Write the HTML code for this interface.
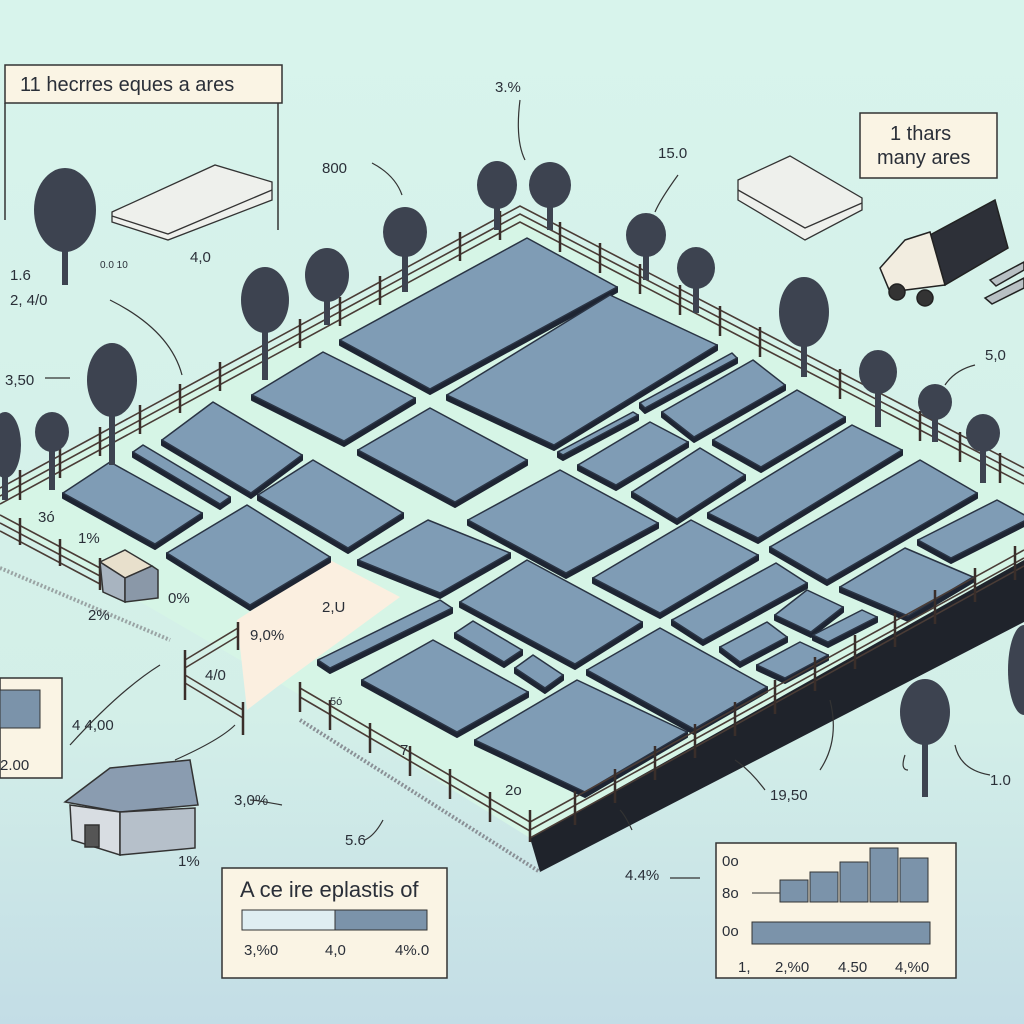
<!DOCTYPE html>
<html><head><meta charset="utf-8"><style>
html,body{margin:0;padding:0;width:1024px;height:1024px;overflow:hidden}
text{font-family:"Liberation Sans",sans-serif;fill:#2a2f38}
</style></head><body>
<svg id="s" width="1024" height="1024" viewBox="0 0 1024 1024" xmlns="http://www.w3.org/2000/svg">
<defs>
<linearGradient id="bg" x1="0" y1="0" x2="0" y2="1">
<stop offset="0" stop-color="#d8f4ec"/><stop offset="0.7" stop-color="#d3efe8"/><stop offset="1" stop-color="#c3dde6"/>
</linearGradient>
</defs>
<rect width="1024" height="1024" fill="url(#bg)"/>
<!-- field -->
<polygon points="520,215 1024,478 1024,560 530,838 300,695 0,520 0,490" fill="#d6f5e6"/>
<polygon points="530,838 1024,560 1024,622 540,872" fill="#1f232b"/>
<polyline points="300,720 540,872" stroke="#8a9096" stroke-width="4" stroke-dasharray="2 2" fill="none"/>
<polyline points="0,568 170,640" stroke="#9aa4a4" stroke-width="4" stroke-dasharray="2 2" fill="none"/>
<polygon points="237,620 330,560 400,597 277,687 247,710" fill="#fbefe0"/>
<g id="plots"></g>
<!-- fence -->
<g stroke="#4a3c36" stroke-width="1.6" fill="none">
<polyline points="0,488 520,206 1024,468"/>
<polyline points="0,496 520,214 1024,476"/>
<polyline points="0,504 520,222 1024,484"/>
<polyline points="1024,550 530,822"/>
<polyline points="1024,558 530,830"/>
<polyline points="1024,566 530,838"/>
<polyline points="300,688 530,822"/><polyline points="300,697 530,831"/>
<polyline points="0,515 100,568"/><polyline points="0,523 100,576"/><polyline points="0,531 100,584"/>
<polyline points="185,660 238,628"/><polyline points="185,668 238,636"/>
<polyline points="185,675 243,710"/><polyline points="185,683 243,718"/>
</g>
<g stroke="#3a2e2a" stroke-width="2.5">
<line x1="20" y1="470" x2="20" y2="500"/><line x1="60" y1="449" x2="60" y2="478"/><line x1="100" y1="427" x2="100" y2="456"/><line x1="140" y1="405" x2="140" y2="434"/><line x1="180" y1="384" x2="180" y2="413"/><line x1="220" y1="362" x2="220" y2="391"/><line x1="300" y1="319" x2="300" y2="348"/><line x1="340" y1="297" x2="340" y2="326"/><line x1="380" y1="276" x2="380" y2="305"/><line x1="460" y1="232" x2="460" y2="261"/><line x1="500" y1="211" x2="500" y2="240"/>
<line x1="560" y1="222" x2="560" y2="252"/><line x1="600" y1="243" x2="600" y2="273"/><line x1="640" y1="264" x2="640" y2="294"/><line x1="680" y1="285" x2="680" y2="315"/><line x1="720" y1="306" x2="720" y2="336"/><line x1="760" y1="327" x2="760" y2="357"/><line x1="840" y1="369" x2="840" y2="399"/><line x1="920" y1="411" x2="920" y2="441"/><line x1="960" y1="432" x2="960" y2="462"/><line x1="1000" y1="453" x2="1000" y2="483"/>
<line x1="1015" y1="546" x2="1015" y2="580"/><line x1="975" y1="568" x2="975" y2="602"/><line x1="935" y1="590" x2="935" y2="624"/><line x1="895" y1="613" x2="895" y2="647"/><line x1="855" y1="635" x2="855" y2="669"/><line x1="815" y1="657" x2="815" y2="691"/><line x1="775" y1="680" x2="775" y2="714"/><line x1="735" y1="702" x2="735" y2="736"/><line x1="695" y1="724" x2="695" y2="758"/><line x1="655" y1="746" x2="655" y2="780"/><line x1="615" y1="769" x2="615" y2="803"/><line x1="575" y1="791" x2="575" y2="825"/><line x1="530" y1="810" x2="530" y2="842"/>
<line x1="490" y1="792" x2="490" y2="822"/><line x1="450" y1="769" x2="450" y2="799"/><line x1="410" y1="746" x2="410" y2="776"/><line x1="370" y1="723" x2="370" y2="753"/><line x1="330" y1="700" x2="330" y2="730"/><line x1="300" y1="682" x2="300" y2="712"/>
<line x1="20" y1="518" x2="20" y2="545"/><line x1="60" y1="539" x2="60" y2="566"/><line x1="100" y1="558" x2="100" y2="590"/><line x1="185" y1="650" x2="185" y2="700"/><line x1="238" y1="622" x2="238" y2="650"/><line x1="243" y1="702" x2="243" y2="735"/>
</g>
<!-- trees -->
<g fill="#3d4350">
<g transform="translate(65,210)"><rect x="-3" y="20" width="6" height="55"/><ellipse rx="31" ry="42"/></g>
<g transform="translate(265,300)"><rect x="-3" y="20" width="6" height="60"/><ellipse rx="24" ry="33"/></g>
<g transform="translate(112,380)"><rect x="-3" y="20" width="6" height="65"/><ellipse rx="25" ry="37"/></g>
<g transform="translate(52,432)"><rect x="-3" y="10" width="6" height="48"/><ellipse rx="17" ry="20"/></g>
<g transform="translate(5,445)"><rect x="-3" y="10" width="6" height="45"/><ellipse rx="16" ry="33"/></g>
<g transform="translate(327,275)"><rect x="-3" y="15" width="6" height="35"/><ellipse rx="22" ry="27"/></g>
<g transform="translate(405,232)"><rect x="-3" y="15" width="6" height="45"/><ellipse rx="22" ry="25"/></g>
<g transform="translate(497,185)"><rect x="-3" y="15" width="6" height="30"/><ellipse rx="20" ry="24"/></g>
<g transform="translate(550,185)"><rect x="-3" y="15" width="6" height="30"/><ellipse rx="21" ry="23"/></g>
<g transform="translate(646,235)"><rect x="-3" y="15" width="6" height="30"/><ellipse rx="20" ry="22"/></g>
<g transform="translate(696,268)"><rect x="-3" y="15" width="6" height="30"/><ellipse rx="19" ry="21"/></g>
<g transform="translate(804,312)"><rect x="-3" y="20" width="6" height="45"/><ellipse rx="25" ry="35"/></g>
<g transform="translate(878,372)"><rect x="-3" y="15" width="6" height="40"/><ellipse rx="19" ry="22"/></g>
<g transform="translate(935,402)"><rect x="-3" y="10" width="6" height="30"/><ellipse rx="17" ry="18"/></g>
<g transform="translate(983,433)"><rect x="-3" y="10" width="6" height="40"/><ellipse rx="17" ry="19"/></g>
<g transform="translate(925,712)"><rect x="-3" y="20" width="6" height="65"/><ellipse rx="25" ry="33"/></g>
<ellipse cx="1024" cy="670" rx="16" ry="45"/>
</g>
<!-- barns -->
<g stroke="#333" stroke-width="1.5">
<polygon points="100,562 125,550 152,566 125,578" fill="#e8e0cc"/>
<polygon points="100,562 125,578 125,602 103,592" fill="#a8b4c0"/>
<polygon points="125,578 152,566 158,570 158,598 125,602" fill="#8a98a8"/>
<polygon points="65,802 110,768 190,760 198,805 120,812" fill="#8a9cb0"/>
<polygon points="70,805 120,812 120,855 72,840" fill="#d8dde2"/>
<polygon points="120,812 195,808 195,848 120,855" fill="#b6c0ca"/>
<rect x="85" y="825" width="14" height="22" fill="#555"/>
</g>
<!-- truck -->
<g stroke="#222" stroke-width="1.5">
<polygon points="930,235 995,200 1008,248 945,285" fill="#2d3038"/>
<polygon points="905,240 930,232 945,285 890,292 880,268" fill="#f2ede0"/>
<circle cx="897" cy="292" r="8" fill="#333"/><circle cx="925" cy="298" r="8" fill="#333"/>
<polygon points="990,280 1024,262 1024,270 996,286" fill="#b8c0c4"/>
<polygon points="985,298 1024,278 1024,288 992,304" fill="#b8c0c4"/>
</g>
<!-- stacks of papers -->
<g stroke="#333" stroke-width="1.3">
<polygon points="112,212 215,165 272,182 272,200 168,240 112,222" fill="#eef0ec"/>
<polyline points="112,216 168,234 272,190" fill="none"/>
<polygon points="738,180 790,156 862,198 862,210 805,240 738,200" fill="#eef0ec"/>
<polyline points="738,190 805,228 862,203" fill="none"/>
</g>
<!-- label boxes -->
<g stroke="#333" stroke-width="1.5" fill="#faf4e4">
<rect x="5" y="65" width="277" height="38"/>
<rect x="860" y="113" width="137" height="65"/>
<rect x="0" y="678" width="62" height="100"/>
<rect x="222" y="868" width="225" height="110"/>
<rect x="716" y="843" width="240" height="135"/>
</g>
<line x1="5" y1="103" x2="5" y2="220" stroke="#333" stroke-width="1.5"/>
<line x1="278" y1="103" x2="278" y2="230" stroke="#333" stroke-width="1.5"/>
<rect x="0" y="690" width="40" height="38" fill="#7b93aa" stroke="#333"/>
<rect x="242" y="910" width="185" height="20" fill="#dfeef2" stroke="#333"/>
<rect x="335" y="910" width="92" height="20" fill="#7b93aa" stroke="#333"/>
<g fill="#7b93aa" stroke="#333">
<rect x="780" y="880" width="28" height="22"/><rect x="810" y="872" width="28" height="30"/><rect x="840" y="862" width="28" height="40"/><rect x="870" y="848" width="28" height="54"/><rect x="900" y="858" width="28" height="44"/>
<rect x="752" y="922" width="178" height="22"/>
</g>
<line x1="752" y1="893" x2="780" y2="893" stroke="#333"/>
<g font-size="20">
<text x="20" y="91">11 hecrres eques a ares</text>
<text x="890" y="140">1 thars</text><text x="877" y="164">many ares</text>
<text x="240" y="897" font-size="22">A ce ire eplastis of</text>
</g>
<g font-size="15">
<text x="322" y="173">800</text><text x="495" y="92">3.%</text><text x="658" y="158">15.0</text>
<text x="10" y="280">1.6</text><text x="10" y="305">2, 4/0</text><text x="5" y="385">3,50</text><text x="100" y="268" font-size="10">0.0 10</text><text x="190" y="262">4,0</text>
<text x="985" y="360">5,0</text><text x="38" y="522">3ó</text><text x="78" y="543">1%</text><text x="88" y="620">2%</text>
<text x="168" y="603">0%</text><text x="250" y="640">9,0%</text><text x="322" y="612">2,U</text><text x="205" y="680">4/0</text>
<text x="72" y="730">4 4,00</text><text x="0" y="770">2.00</text><text x="234" y="805">3,0%</text><text x="178" y="866">1%</text>
<text x="345" y="845">5.6</text><text x="400" y="755">7,</text><text x="505" y="795">2o</text><text x="770" y="800">19,50</text>
<text x="625" y="880">4.4%</text><text x="990" y="785">1.0</text><text x="330" y="705" font-size="11">5ó</text>
<text x="244" y="955">3,%0</text><text x="325" y="955">4,0</text><text x="395" y="955">4%.0</text>
<text x="722" y="866">0o</text><text x="722" y="898">8o</text><text x="722" y="936">0o</text>
<text x="738" y="972">1,</text><text x="775" y="972">2,%0</text><text x="838" y="972">4.50</text><text x="895" y="972">4,%0</text>
</g>
<g stroke="#333" stroke-width="1.2" fill="none">
<path d="M372,163 Q395,175 402,195"/><path d="M520,100 Q515,140 525,160"/><path d="M678,175 Q660,200 655,212"/>
<path d="M110,300 Q170,330 182,375"/><path d="M45,378 L70,378"/><path d="M975,365 Q955,370 945,385"/>
<path d="M70,745 Q120,690 160,665"/><path d="M175,760 Q220,740 235,725"/><path d="M282,805 Q255,800 250,800"/>
<path d="M383,820 Q375,835 365,840"/><path d="M765,790 Q750,770 735,760"/><path d="M955,745 Q960,770 990,775"/>
<path d="M830,700 Q840,740 820,770"/><path d="M905,755 Q900,770 908,770"/><path d="M632,830 Q625,815 620,810"/>
<path d="M670,878 L700,878"/>
</g>
</svg>
<script>
var P=[[340,340,527,238,617,287],[447,395,610,295,717,345],[252,395,323,352,415,398],[358,450,430,408,527,460],
[640,403,732,353,737,358],[662,412,753,360,785,385],[713,440,797,390,845,417],[558,452,633,412,638,415],
[578,465,650,422,688,442],[632,492,700,448,745,475],[708,513,852,425,902,450],[468,520,560,470,658,523],
[770,547,920,460,977,493],[593,578,691,520,758,555],[672,620,776,563,807,583],[840,587,905,548,973,577],
[918,540,997,500,1030,518],[775,615,807,590,843,607],[720,647,767,622,787,637],[813,635,862,610,877,617],
[757,665,800,642,828,655],[587,670,660,628,767,687],[475,740,577,680,687,732],[460,602,527,560,642,622],
[162,440,213,402,302,455],[133,452,143,445,230,497],[63,493,110,462,202,513],[258,495,313,460,403,513],
[167,553,247,505,330,557],[358,560,428,520,510,553],[318,660,440,600,452,608],[455,633,473,621,522,650],
[515,668,533,655,563,675],[362,680,433,640,528,692]];
var g=document.getElementById('plots'),h='';
P.forEach(function(p){var bx=p[0]+p[4]-p[2],by=p[1]+p[5]-p[3];
var pts=p[0]+','+p[1]+' '+p[2]+','+p[3]+' '+p[4]+','+p[5]+' '+bx+','+by;
h+='<polygon points="'+p[0]+','+p[1]+' '+p[4]+','+p[5]+' '+p[4]+','+(p[5]+5)+' '+bx+','+(by+5)+' '+p[0]+','+(p[1]+5)+'" fill="#1e2533" stroke="#1e2533" stroke-width="2" stroke-linejoin="round"/>';
h+='<polygon points="'+pts+'" fill="#7f9cb5" stroke="#2a3444" stroke-width="1.5" stroke-linejoin="round"/>';});
g.innerHTML=h;
</script>
</body></html>
